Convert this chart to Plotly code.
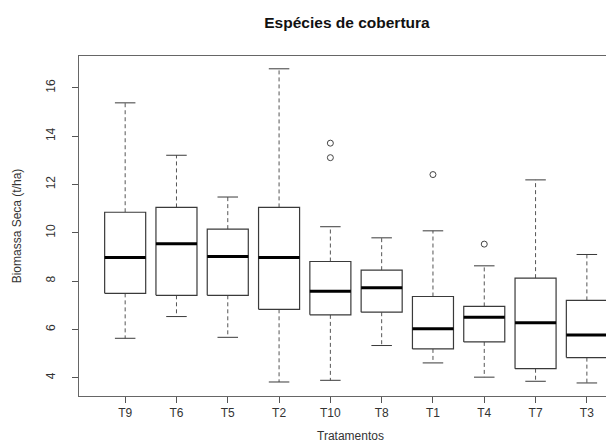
import plotly.graph_objects as go

categories = ["T9", "T6", "T5", "T2", "T10", "T8", "T1", "T4", "T7", "T3"]
lower_whisker = [5.63, 6.53, 5.67, 3.82, 3.89, 5.33, 4.61, 4.02, 3.85, 3.78]
q1 = [7.49, 7.41, 7.41, 6.83, 6.60, 6.71, 5.19, 5.48, 4.37, 4.83]
median = [8.98, 9.54, 9.02, 8.98, 7.58, 7.72, 6.02, 6.50, 6.27, 5.77]
q3 = [10.85, 11.05, 10.15, 11.05, 8.81, 8.45, 7.36, 6.95, 8.12, 7.20]
upper_whisker = [15.38, 13.21, 11.48, 16.79, 10.25, 9.79, 10.08, 8.63, 12.19, 9.10]
outlier_groups = ["T10", "T10", "T1", "T4"]
outlier_values = [13.71, 13.11, 12.41, 9.53]
y_ticks = [4, 6, 8, 10, 12, 14, 16]

positions = list(range(1, len(categories) + 1))
half_box = 0.4
half_cap = 0.2
line_col = "#3a3a3a"

bx, by, mx, my, wx, wy, cx, cy = [], [], [], [], [], [], [], []
for p, lo, a, m, b, hi in zip(positions, lower_whisker, q1, median, q3, upper_whisker):
    bx += [p - half_box, p + half_box, p + half_box, p - half_box, p - half_box, None]
    by += [a, a, b, b, a, None]
    mx += [p - half_box, p + half_box, None]
    my += [m, m, None]
    wx += [p, p, None, p, p, None]
    wy += [b, hi, None, a, lo, None]
    cx += [p - half_cap, p + half_cap, None, p - half_cap, p + half_cap, None]
    cy += [hi, hi, None, lo, lo, None]

ox = [positions[categories.index(g)] for g in outlier_groups]

fig = go.Figure()
fig.add_trace(go.Scatter(x=wx, y=wy, mode="lines", line=dict(color="#555", width=1, dash="4px,3px"),
                         hoverinfo="skip", showlegend=False))
fig.add_trace(go.Scatter(x=cx, y=cy, mode="lines", line=dict(color=line_col, width=1),
                         hoverinfo="skip", showlegend=False))
fig.add_trace(go.Scatter(x=bx, y=by, mode="lines", line=dict(color=line_col, width=1.2),
                         fill="toself", fillcolor="white", hoverinfo="skip", showlegend=False))
fig.add_trace(go.Scatter(x=mx, y=my, mode="lines", line=dict(color="black", width=3),
                         hoverinfo="skip", showlegend=False))
fig.add_trace(go.Scatter(x=ox, y=outlier_values, mode="markers",
                         marker=dict(symbol="circle-open", size=6, color="#444", line=dict(width=1)),
                         showlegend=False))

font_family = "Liberation Sans, Arial, sans-serif"
fig.update_layout(
    width=614, height=446,
    margin=dict(l=71, r=0, t=48, b=58),
    paper_bgcolor="white", plot_bgcolor="white",
    font=dict(family=font_family, color="#333", size=12),
    title=dict(text="<b>Espécies de cobertura</b>", x=(339 - 71) / 543, xref="paper", xanchor="center",
               y=1 - 15 / 446, yref="container", yanchor="middle",
               font=dict(size=15.5, color="#111", family=font_family)),
    xaxis=dict(range=[0.1, 10.685], tickvals=positions, ticktext=categories,
               showgrid=False, zeroline=False, showline=True, mirror=True,
               linecolor="#666", linewidth=1, ticks="outside", ticklen=6, tickcolor="#555",
               ticklabelstandoff=0, tickfont=dict(size=12, color="#333"),
               title=dict(text="Tratamentos", font=dict(size=12, color="#333"), standoff=12)),
    yaxis=dict(range=[3.24, 17.32], tickvals=y_ticks, ticktext=[str(t) for t in y_ticks],
               showgrid=False, zeroline=False, showline=True, mirror=False,
               linecolor="#666", linewidth=1, ticks="outside", ticklen=6, tickcolor="#555",
               tickangle=-90, ticklabelstandoff=12, tickfont=dict(size=12, color="#333"),
               title=dict(text="Biomassa Seca (t/ha)", font=dict(size=12, color="#333"), standoff=20)),
)
fig.write_html("out.html", config={"displayModeBar": False})
